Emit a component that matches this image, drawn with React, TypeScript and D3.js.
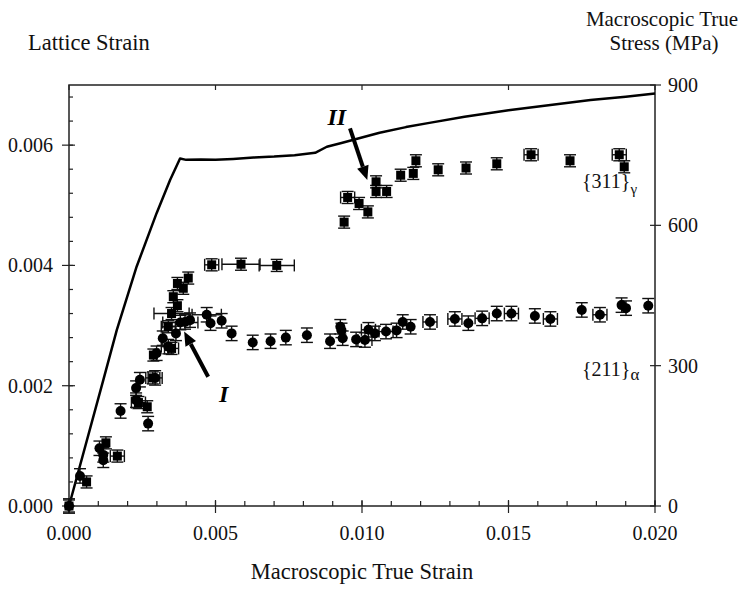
import React from "react";
import * as d3 from "d3";

// ---- Macroscopic stress-strain curve (right axis, MPa) ----
const curveStrain = [0, 0.00117, 0.00163, 0.00231, 0.00299, 0.00345, 0.00379, 0.004, 0.0045, 0.005, 0.0056, 0.0063, 0.007, 0.0077, 0.0084, 0.0088, 0.0093, 0.0099, 0.0106, 0.0115, 0.0123, 0.0135, 0.015, 0.0165, 0.0178, 0.019, 0.02];
const curveStress = [0, 269, 376, 512, 626, 697, 743, 740, 741, 740, 742, 745, 747, 750, 755, 768, 776, 786, 798, 810, 819, 832, 846, 858, 868, 875, 882];

// ---- {311} gamma (squares) ----
const gammaStrain = [0, 0.0006, 0.00126, 0.00165, 0.00237, 0.00267, 0.00286, 0.00288, 0.0035, 0.00339, 0.0035, 0.00356, 0.0037, 0.0037, 0.0039, 0.00407, 0.00487, 0.00587, 0.00709, 0.00939, 0.00951, 0.0099, 0.0102, 0.01048, 0.01048, 0.01084, 0.01132, 0.01175, 0.01184, 0.0126, 0.01355, 0.0146, 0.01577, 0.0171, 0.01878, 0.01895];
const gammaLattice = [0, 0.0004, 0.00105, 0.00083, 0.00172, 0.00165, 0.00213, 0.00251, 0.00262, 0.00298, 0.0032, 0.00348, 0.00333, 0.0037, 0.00362, 0.00379, 0.00401, 0.00402, 0.004, 0.00472, 0.00513, 0.00503, 0.00489, 0.00539, 0.00523, 0.00523, 0.0055, 0.00553, 0.00574, 0.00559, 0.00562, 0.00569, 0.00584, 0.00574, 0.00584, 0.00564];
const gammaXerr = [0, 0, 0, 0.00024, 0.00024, 0, 0.00024, 0, 0.00024, 0.00024, 0.0006, 0, 0, 0, 0, 0, 0.00024, 0.00065, 0.0006, 0, 0.00024, 0, 0, 0, 0, 0, 0, 0, 0, 0, 0, 0, 0.00024, 0, 0.00024, 0];
const gammaYerr = 0.0001;

// ---- {211} alpha (circles) ----
const alphaStrain = [0, 0.000375, 0.00104, 0.00117, 0.00117, 0.00176, 0.00229, 0.00242, 0.00229, 0.0027, 0.00294, 0.00299, 0.0032, 0.00339, 0.00365, 0.0038, 0.00396, 0.00413, 0.0047, 0.00483, 0.00521, 0.00555, 0.00627, 0.00688, 0.0074, 0.00812, 0.00891, 0.00926, 0.0093, 0.00934, 0.0098, 0.0101, 0.01022, 0.01044, 0.01082, 0.01118, 0.01139, 0.01166, 0.01232, 0.01317, 0.01363, 0.0141, 0.0146, 0.0151, 0.0159, 0.01643, 0.0175, 0.01812, 0.01886, 0.01901, 0.01977];
const alphaLattice = [0, 0.0005, 0.00096, 0.00085, 0.00076, 0.00158, 0.00196, 0.0021, 0.00176, 0.00137, 0.00213, 0.00254, 0.00279, 0.00265, 0.00287, 0.00305, 0.00306, 0.00309, 0.00318, 0.00304, 0.00308, 0.00287, 0.00272, 0.00274, 0.0028, 0.00284, 0.00274, 0.00298, 0.00292, 0.00279, 0.00277, 0.00276, 0.00293, 0.00287, 0.0029, 0.00292, 0.00306, 0.00298, 0.00306, 0.00311, 0.00304, 0.00312, 0.0032, 0.0032, 0.00316, 0.00311, 0.00326, 0.00318, 0.00334, 0.00329, 0.00333];
const alphaXerr = [0, 0, 0, 0, 0, 0, 0, 0, 0, 0, 0.00024, 0, 0, 0.00024, 0, 0.0006, 0, 0, 0.0005, 0, 0, 0, 0, 0, 0, 0, 0, 0, 0, 0, 0, 0.00024, 0.00024, 0, 0.00024, 0, 0, 0, 0.00024, 0.00024, 0, 0.00024, 0, 0.00024, 0, 0.00024, 0, 0.00024, 0, 0, 0];
const alphaYerr = 0.00012;

// ---- Axes ----
const xTicksMajor = [0, 0.005, 0.01, 0.015, 0.02];
const xTicksMinor = d3.range(0, 21).map((i) => i * 0.001);
const yLeftMajor = [0, 0.002, 0.004, 0.006];
const yLeftMinor = d3.range(0, 18).map((i) => i * 0.0004);
const yRightMajor = [0, 300, 600, 900];

// ---- Annotations (data units) ----
const arrowI = { from: [0.00475, 0.00215], to: [0.00393, 0.0029], label: "I", at: [0.00512, 0.00173] };
const arrowII = { from: [0.00959, 0.00628], to: [0.01018, 0.00542], label: "II", at: [0.00882, 0.00634] };

const W = 747, H = 590;
const L = 69, R = 655, T = 85, B = 506;
const FONT = "'Liberation Serif', 'Times New Roman', serif";

export default function App() {
  const x = d3.scaleLinear().domain([0, 0.02]).range([L, R]);
  const y = d3.scaleLinear().domain([0, 0.007]).range([B, T]);
  const y2 = d3.scaleLinear().domain([0, 900]).range([B, T]);
  const fmt = d3.format(".3f");
  const line = d3.line<number>().x((_, i) => x(curveStrain[i])).y((d) => y2(d));

  const errBars = (xs: number[], ys: number[], xe: number[], ye: number) =>
    xs.map((xv, i) => {
      const cx = x(xv), cy = y(ys[i]);
      const y0 = y(ys[i] - ye), y1 = y(ys[i] + ye);
      const cw = 6;
      const els = [
        <line key="v" x1={cx} x2={cx} y1={y0} y2={y1} />,
        <line key="c1" x1={cx - cw} x2={cx + cw} y1={y0} y2={y0} />,
        <line key="c2" x1={cx - cw} x2={cx + cw} y1={y1} y2={y1} />,
      ];
      if (xe[i] > 0) {
        const xl = x(xv - xe[i]), xr = x(xv + xe[i]);
        els.push(<line key="h" x1={xl} x2={xr} y1={cy} y2={cy} />);
        els.push(<line key="hc1" x1={xl} x2={xl} y1={cy - 6} y2={cy + 6} />);
        els.push(<line key="hc2" x1={xr} x2={xr} y1={cy - 6} y2={cy + 6} />);
      }
      return <g key={i}>{els}</g>;
    });

  const arrow = (a: typeof arrowI, key: string) => {
    const x1 = x(a.from[0]), y1 = y(a.from[1]), x2 = x(a.to[0]), y2p = y(a.to[1]);
    const ang = Math.atan2(y2p - y1, x2 - x1);
    const hl = 14, hw = 6;
    const bx = x2 - hl * Math.cos(ang), by = y2p - hl * Math.sin(ang);
    const px = -Math.sin(ang), py = Math.cos(ang);
    const pts = `${x2},${y2p} ${bx + hw * px},${by + hw * py} ${bx - hw * px},${by - hw * py}`;
    return (
      <g key={key}>
        <line x1={x1} y1={y1} x2={bx} y2={by} stroke="#000" strokeWidth={4} />
        <polygon points={pts} fill="#000" />
      </g>
    );
  };

  return (
    <svg width={W} height={H} style={{ position: "absolute", left: 0, top: 0, background: "#fff" }} fontFamily={FONT}>
      {/* frame */}
      <rect x={L} y={T} width={R - L} height={B - T} fill="none" stroke="#222" strokeWidth={1.5} />
      {/* ticks */}
      <g stroke="#222" strokeWidth={1.2}>
        {yLeftMinor.map((v, i) => (
          <line key={"lm" + i} x1={L} x2={L + 4} y1={y(v)} y2={y(v)} />
        ))}
        {yLeftMajor.map((v, i) => (
          <line key={"lM" + i} x1={L - 7} x2={L + 6} y1={y(v)} y2={y(v)} />
        ))}
        {yRightMajor.map((v, i) => (
          <line key={"rM" + i} x1={R - 5} x2={R + 6} y1={y2(v)} y2={y2(v)} />
        ))}
        {xTicksMinor.map((v, i) => (
          <line key={"xm" + i} x1={x(v)} x2={x(v)} y1={B} y2={B - 5} />
        ))}
        {xTicksMajor.map((v, i) => (
          <line key={"xM" + i} x1={x(v)} x2={x(v)} y1={B + 7} y2={B - 6} />
        ))}
        {xTicksMajor.map((v, i) => (
          <line key={"xt" + i} x1={x(v)} x2={x(v)} y1={T} y2={T + 5} />
        ))}
      </g>
      {/* tick labels */}
      <g fontSize={20} fill="#111">
        {yLeftMajor.map((v, i) => (
          <text key={"ll" + i} x={53} y={y(v)} dy="0.35em" textAnchor="end">{fmt(v)}</text>
        ))}
        {yRightMajor.map((v, i) => (
          <text key={"rl" + i} x={668} y={y2(v)} dy="0.35em" textAnchor="start">{v}</text>
        ))}
        {xTicksMajor.map((v, i) => (
          <text key={"xl" + i} x={x(v)} y={540} textAnchor="middle">{fmt(v)}</text>
        ))}
      </g>
      {/* titles */}
      <g fontSize={22.5} fill="#111">
        <text x={28} y={50}>Lattice Strain</text>
        <text x={(L + R) / 2} y={579} textAnchor="middle">Macroscopic True Strain</text>
      </g>
      <g fontSize={21} fill="#111">
        <text x={662} y={26} textAnchor="middle">Macroscopic True</text>
        <text x={664} y={50} textAnchor="middle">Stress (MPa)</text>
      </g>
      {/* curve */}
      <path d={line(curveStress) || ""} fill="none" stroke="#000" strokeWidth={2.5} strokeLinejoin="round" />
      {/* error bars */}
      <g stroke="#111" strokeWidth={1.4}>
        {errBars(alphaStrain, alphaLattice, alphaXerr, alphaYerr)}
        {errBars(gammaStrain, gammaLattice, gammaXerr, gammaYerr)}
      </g>
      {/* markers */}
      <g fill="#000">
        {alphaStrain.map((v, i) => (
          <circle key={"a" + i} cx={x(v)} cy={y(alphaLattice[i])} r={5} />
        ))}
        {gammaStrain.map((v, i) => (
          <rect key={"g" + i} x={x(v) - 4.5} y={y(gammaLattice[i]) - 4.5} width={9} height={9} />
        ))}
      </g>
      {/* series labels */}
      <g fontSize={20} fill="#111">
        <text x={582} y={188}>{"{311}"}<tspan fontSize={15} dy={6}>γ</tspan></text>
        <text x={582} y={376}>{"{211}"}<tspan fontSize={17} dy={4}>α</tspan></text>
      </g>
      {/* arrows */}
      {arrow(arrowI, "aI")}
      {arrow(arrowII, "aII")}
      <g fontSize={24} fontWeight="bold" fontStyle="italic" fill="#000">
        <text x={x(arrowI.at[0])} y={y(arrowI.at[1])}>{arrowI.label}</text>
        <text x={x(arrowII.at[0])} y={y(arrowII.at[1])}>{arrowII.label}</text>
      </g>
    </svg>
  );
}
